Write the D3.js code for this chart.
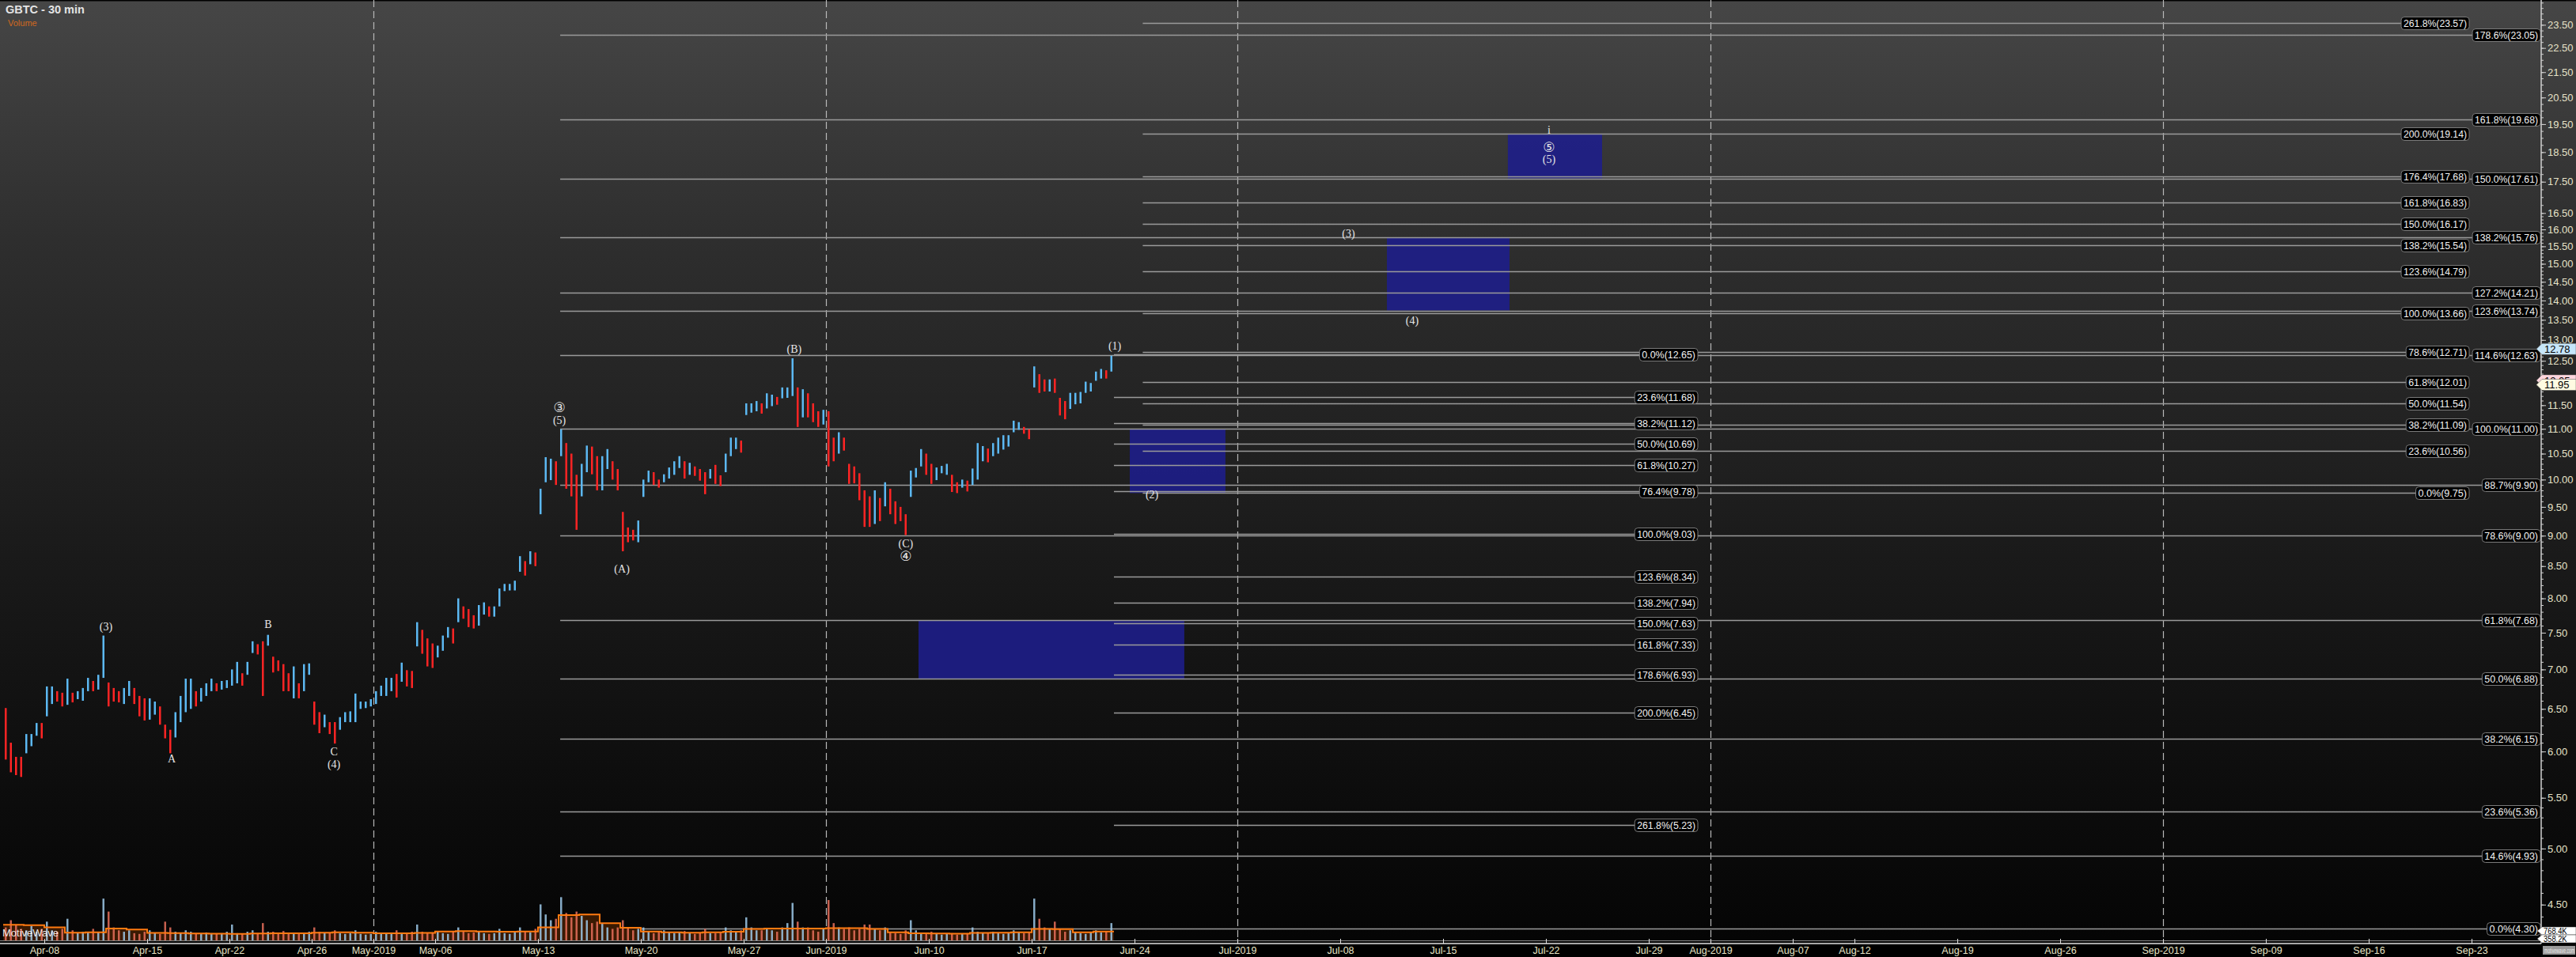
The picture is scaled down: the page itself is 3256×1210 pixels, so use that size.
<!DOCTYPE html>
<html><head><meta charset="utf-8">
<script src="https://cdn.jsdelivr.net/npm/d3@7"></script>
<style>
html,body{margin:0;padding:0;background:#000;overflow:hidden}
svg{display:block}
</style></head><body>
<svg id="chart" width="3256" height="1210"></svg>
<script>
// ---------------- DATA ----------------
const startDay = -2;          // trading-day index of first bar (Apr-08 = 0)
const barsPerDay = 4;
const barHigh = [
6.51,6.10,5.94,5.94, 6.20,6.20,6.33,6.33, 6.78,6.78,6.72,6.70, 6.88,6.70,6.72,6.76,
6.89,6.85,6.93,7.46, 6.83,6.76,6.72,6.76, 6.85,6.76,6.66,6.63, 6.63,6.59,6.53,6.31,
6.25,6.46,6.66,6.88, 6.88,6.72,6.76,6.82, 6.88,6.82,6.85,6.86, 7.00,7.10,6.95,7.10,
7.38,7.34,7.38,7.47, 7.17,7.12,7.07,6.95, 7.04,6.82,7.07,7.08, 6.59,6.46,6.43,6.34,
6.34,6.40,6.46,6.47, 6.69,6.59,6.59,6.62, 6.72,6.79,6.89,6.89, 6.94,7.09,6.99,6.98,
7.65,7.54,7.42,7.35, 7.32,7.46,7.58,7.56, 8.00,7.88,7.84,7.75, 7.90,7.94,7.88,7.88,
8.15,8.22,8.22,8.27, 8.66,8.58,8.74,8.72, 9.83,10.43,10.40,10.35, 10.99,10.71,10.50,10.09,
10.30,10.66,10.64,10.45, 10.45,10.59,10.35,10.20, 9.41,9.14,9.10,9.26, 10.00,10.17,10.14,10.00,
10.10,10.23,10.35,10.45, 10.35,10.32,10.25,10.20, 10.14,10.20,10.28,10.08, 10.50,10.82,10.82,10.76,
11.54,11.54,11.59,11.54, 11.76,11.73,11.68,11.89, 11.89,12.56,11.89,11.85, 11.76,11.54,11.37,11.40,
11.37,10.82,10.93,10.82, 10.30,10.25,10.12,9.80, 9.69,9.80,9.66,9.95, 9.83,9.60,9.50,9.37,
10.17,10.22,10.59,10.50, 10.30,10.23,10.26,10.30, 10.09,9.95,10.00,9.98, 10.21,10.71,10.65,10.60,
10.71,10.82,10.87,10.87, 11.17,11.14,11.04,10.99, 12.37,12.19,12.07,12.07, 12.09,11.66,11.59,11.77,
11.77,11.79,12.02,11.99, 12.25,12.31,12.28,12.62];
const barLow = [
5.91,5.77,5.74,5.72, 5.98,6.06,6.18,6.15, 6.41,6.56,6.59,6.53, 6.55,6.58,6.62,6.60,
6.72,6.72,6.74,6.89, 6.53,6.59,6.58,6.56, 6.66,6.56,6.41,6.36, 6.37,6.43,6.31,6.15,
5.98,6.16,6.34,6.46, 6.50,6.53,6.59,6.66, 6.72,6.72,6.74,6.76, 6.79,6.82,6.79,6.93,
7.22,7.20,6.66,7.32, 6.96,6.98,6.72,6.72, 6.63,6.63,6.72,6.93, 6.31,6.21,6.28,6.20,
6.09,6.25,6.34,6.34, 6.34,6.50,6.51,6.53, 6.56,6.66,6.66,6.72, 6.64,6.84,6.78,6.76,
7.31,7.21,7.04,7.02, 7.16,7.25,7.43,7.35, 7.65,7.70,7.58,7.56, 7.60,7.76,7.73,7.73,
7.88,8.11,8.12,8.12, 8.41,8.35,8.53,8.50, 9.37,9.95,9.99,9.90, 10.45,9.83,9.69,9.10,
9.69,10.14,10.10,9.80, 9.80,10.20,10.00,9.80, 8.74,8.89,8.92,8.89, 9.68,9.95,9.90,9.85,
9.95,10.02,10.09,10.22, 10.02,10.09,10.07,9.98, 9.73,10.02,9.92,9.88, 10.14,10.45,10.59,10.52,
11.29,11.34,11.37,11.32, 11.43,11.48,11.51,11.65, 11.66,11.70,11.04,11.24, 11.24,11.14,11.04,11.09,
10.25,10.35,10.50,10.56, 9.92,9.93,9.62,9.15, 9.15,9.20,9.25,9.51, 9.37,9.20,9.25,9.01,
9.68,10.04,10.25,10.09, 9.92,9.99,10.12,10.09, 9.77,9.75,9.85,9.78, 9.90,10.00,10.35,10.33,
10.45,10.50,10.58,10.64, 10.93,10.98,10.90,10.79, 11.89,11.77,11.80,11.80, 11.77,11.28,11.20,11.42,
11.52,11.54,11.77,11.80, 12.04,12.09,12.09,12.25];
// volume per bar (thousands of shares)
const volumeK = [
900,1400,1100,800, 700,1000,600,800, 1300,700,600,800, 1500,700,500,600,
600,800,600,2900, 2000,900,700,600, 700,500,450,600, 700,500,450,1300,
900,600,500,700, 600,500,450,550, 500,450,500,600, 1100,500,450,600,
700,500,1200,600, 600,500,650,500, 550,450,500,600, 900,600,500,550,
700,500,450,500, 700,450,400,450, 600,450,500,550, 700,500,500,600,
1100,600,500,550, 600,500,450,600, 900,600,500,550, 600,500,450,500,
800,500,450,550, 900,600,550,800, 2500,1800,1400,1500, 3000,1900,1600,2000,
1700,1400,1200,1300, 1200,900,800,900, 1400,900,700,800, 900,600,500,600,
700,550,500,600, 650,500,450,550, 800,500,500,600, 900,700,600,700,
1600,900,700,700, 800,700,600,900, 1200,2600,1300,900, 900,700,600,800,
2800,1200,900,800, 900,700,800,1100, 1100,800,700,900, 600,500,450,700,
1400,700,500,500, 600,500,400,450, 500,400,450,500, 900,600,500,550,
600,500,450,550, 700,550,500,600, 2900,1500,900,800, 1300,800,600,700,
600,500,450,600, 700,550,600,1200];
// volume moving average, one value per trading day (thousands)
const volumeMA = [1080,1050,900,540,560,820,760,520,510,480,460,450,480,500,500,540,560,540,
490,500,520,620,640,620,600,620,900,1750,1800,1200,880,620,560,540,560,600,800,820,830,820,
850,850,800,560,500,480,470,520,540,560,800,780,560,620];
// x-axis ticks (trading-day index) and labels
const xTickDays = [0,5,9,13,16,19,24,29,34,38,43,48,53,58,63,68,73,78,81,85,88,93,98,103,108,113,118];
const xTickLabels = ["Apr-08","Apr-15","Apr-22","Apr-26","May-2019","May-06","May-13","May-20","May-27",
"Jun-2019","Jun-10","Jun-17","Jun-24","Jul-2019","Jul-08","Jul-15","Jul-22","Jul-29","Aug-2019",
"Aug-07","Aug-12","Aug-19","Aug-26","Sep-2019","Sep-09","Sep-16","Sep-23"];
const monthStartDays = [16,38,58,81,103];
// y-axis tick labels
const yTickValues = [4.5,5,5.5,6,6.5,7,7.5,8,8.5,9,9.5,10,10.5,11,11.5,12.5,13,13.5,14,14.5,15,15.5,16,16.5,17.5,18.5,19.5,20.5,21.5,22.5,23.5];
// Fibonacci tools: level labels & prices
const fibLLevels = ["178.6%","161.8%","150.0%","138.2%","127.2%","123.6%","114.6%","100.0%","88.7%","78.6%","61.8%","50.0%","38.2%","23.6%","14.6%","0.0%"];
const fibLPrices = [23.05,19.68,17.61,15.76,14.21,13.74,12.63,11.00,9.90,9.00,7.68,6.88,6.15,5.36,4.93,4.30];
const fibLStartDay = 25.08;
const fibMLevels = ["261.8%","200.0%","176.4%","161.8%","150.0%","138.2%","123.6%","100.0%","78.6%","61.8%","50.0%","38.2%","23.6%","0.0%"];
const fibMPrices = [23.57,19.14,17.68,16.83,16.17,15.54,14.79,13.66,12.71,12.01,11.54,11.09,10.56,9.75];
const fibMStartDay = 53.4;
const fibRLevels = ["0.0%","23.6%","38.2%","50.0%","61.8%","76.4%","100.0%","123.6%","138.2%","150.0%","161.8%","178.6%","200.0%","261.8%"];
const fibRPrices = [12.65,11.68,11.12,10.69,10.27,9.78,9.03,8.34,7.94,7.63,7.33,6.93,6.45,5.23];
const fibRStartDay = 52.0;
// target boxes
const boxStartDay = [42.5,52.77,65.27,71.15];
const boxEndDay   = [55.42,57.42,71.23,75.73];
const boxTop      = [7.68,11.00,15.76,19.14];
const boxBottom   = [6.88,9.75,13.74,17.61];
// Elliott wave labels
const waveText  = ["(3)","A","B","C","(4)","\u2462","(5)","(A)","(B)","(C)","\u2463","(1)","(2)","(3)","(4)","i","\u2464","(5)"];
const waveDay   = [3.0,6.19,10.88,14.08,14.08,25.04,25.04,28.08,36.46,41.88,41.88,52.04,53.85,63.4,66.5,73.15,73.15,73.15];
const wavePrice = [7.59,5.92,7.62,6.00,5.86,11.45,11.19,8.46,12.79,8.87,8.66,12.86,9.73,15.88,13.49,19.3,18.68,18.26];
// right-axis value markers
const priceMarkers = [12.05,11.95,12.78];
const volMarkers = ["768.4K","358.2K"];

// ---------------- LAYOUT ----------------
const W=3256,H=1210, plotR=3212, axisY=1193, volBase=1189;
const svg=d3.select("#chart");
const defs=svg.append("defs");
const grad=defs.append("linearGradient").attr("id","bg").attr("x1",0).attr("y1",0).attr("x2",0).attr("y2",1);
[[0,"#464646"],[0.25,"#2e2e2e"],[0.58,"#1a1a1a"],[0.8,"#0e0e0e"],[1,"#040404"]].forEach(s=>grad.append("stop").attr("offset",s[0]).attr("stop-color",s[1]));
svg.append("rect").attr("width",W).attr("height",H).attr("fill","url(#bg)");
svg.append("rect").attr("x",0).attr("y",axisY).attr("width",plotR).attr("height",H-axisY).attr("fill","#000");
svg.append("line").attr("x1",0).attr("x2",W).attr("y1",0.5).attr("y2",0.5).attr("stroke","#000").attr("stroke-width",2);

const x=d3.scaleLinear().domain([0,118]).range([56,3124]);
const y=d3.scaleLog().domain([4.0782,24.621]).range([1210,0]);
const yv=d3.scaleLinear().domain([0,768.4]).range([volBase,volBase-14]);

// month separators
svg.append("g").selectAll("line").data(monthStartDays).join("line")
 .attr("x1",d=>Math.round(x(d))+0.5).attr("x2",d=>Math.round(x(d))+0.5).attr("y1",0).attr("y2",axisY)
 .attr("stroke","#b8b8b8").attr("stroke-width",1.2).attr("stroke-dasharray","9,5");

// boxes
const boxes=d3.range(boxStartDay.length);
svg.append("g").selectAll("rect").data(boxes).join("rect")
 .attr("x",i=>x(boxStartDay[i])).attr("width",i=>x(boxEndDay[i])-x(boxStartDay[i]))
 .attr("y",i=>y(boxTop[i])).attr("height",i=>y(boxBottom[i])-y(boxTop[i]))
 .attr("fill","#1e1e8c").attr("fill-opacity",0.88);

// fib groups
const boxCharW=6.15;
function fibGroup(levels,prices,startDay,rightEdge){
  const g=svg.append("g");
  levels.forEach((lv,i)=>{
    const txt=lv+"("+prices[i].toFixed(2)+")";
    const w=txt.length*boxCharW+6;
    const yy=Math.round(y(prices[i]))+0.5;
    const bx=rightEdge-w;
    g.append("line").attr("x1",x(startDay)).attr("x2",bx).attr("y1",yy).attr("y2",yy)
      .attr("stroke","#9a9a9a").attr("stroke-width",1.3);
    g.append("rect").attr("x",bx).attr("y",yy-8).attr("width",w).attr("height",16).attr("rx",4)
      .attr("fill","#000").attr("stroke","#7a7a7a").attr("stroke-width",1);
    g.append("text").attr("x",bx+3).attr("y",yy+4.5).text(txt)
      .attr("textLength",txt.length*boxCharW).attr("lengthAdjust","spacingAndGlyphs")
      .attr("font-family","'Liberation Sans Narrow','Liberation Sans',Arial,sans-serif").attr("font-size",12.5).attr("fill","#f2f2f2");
  });
}
fibGroup(fibLLevels,fibLPrices,fibLStartDay,3211);
fibGroup(fibMLevels,fibMPrices,fibMStartDay,3121);
fibGroup(fibRLevels,fibRPrices,fibRStartDay,2146);

// volume
const barDay=i=>startDay+(i+0.5)/barsPerDay;
const dirUp=barHigh.map((h,i)=> i===0 ? false : (h+barLow[i]) >= (barHigh[i-1]+barLow[i-1]));
const maPts=[]; volumeMA.forEach((v,i)=>{maPts.push([startDay+i,v]);}); maPts.push([startDay+volumeMA.length,volumeMA[volumeMA.length-1]]);
svg.append("path").datum(maPts).attr("d",d3.area().x(d=>x(d[0])).y0(volBase).y1(d=>yv(d[1])).curve(d3.curveStepAfter))
 .attr("fill","#3a1a02");
svg.append("g").selectAll("rect").data(volumeK).join("rect")
 .attr("x",(d,i)=>x(barDay(i))-1.25).attr("width",2.5)
 .attr("y",d=>yv(d)).attr("height",d=>volBase-yv(d))
 .attr("fill",(d,i)=>dirUp[i]?"#9cc8e8":"#e8705c").attr("fill-opacity",0.85);
svg.append("path").datum(maPts).attr("d",d3.line().x(d=>x(d[0])).y(d=>yv(d[1])).curve(d3.curveStepAfter))
 .attr("fill","none").attr("stroke","#ff7a10").attr("stroke-width",2);
svg.append("line").attr("x1",0).attr("x2",plotR).attr("y1",volBase+0.5).attr("y2",volBase+0.5).attr("stroke","#8a8a8a").attr("stroke-width",1);

// price bars
svg.append("g").selectAll("rect").data(barHigh).join("rect")
 .attr("x",(d,i)=>x(barDay(i))-1.25).attr("width",2.5)
 .attr("y",d=>y(d)).attr("height",(d,i)=>Math.max(1,y(barLow[i])-y(d)))
 .attr("fill",(d,i)=>dirUp[i]?"#5cb8f2":"#ff2424");

// wave labels
const isCircled=d=>/[\u2460-\u2473]/.test(d);
svg.append("g").selectAll("text").data(waveText).join("text")
 .attr("x",(d,i)=>x(waveDay[i])).attr("y",(d,i)=>y(wavePrice[i])).attr("dy","0.35em")
 .attr("text-anchor","middle").text(d=>d)
 .attr("font-family",d=>isCircled(d)?"'DejaVu Sans',sans-serif":"'Liberation Serif','Times New Roman',serif")
 .attr("font-size",d=>isCircled(d)?17:14).attr("fill","#e6e6e6");

// axes
const axisFont="'Liberation Sans Narrow','Liberation Sans',Arial,sans-serif";
const xAxis=svg.append("g").attr("transform",`translate(0,${axisY})`)
 .call(d3.axisBottom(x).tickValues(xTickDays).tickFormat((d,i)=>xTickLabels[i]).tickSize(-6).tickPadding(4));
xAxis.select(".domain").attr("d",`M0,0H${plotR}`).attr("stroke","#e0e0e0").attr("stroke-width",1.6);
xAxis.selectAll(".tick line").attr("stroke","#e0e0e0");
xAxis.selectAll("text").attr("fill","#e8e4c6").attr("font-family",axisFont).attr("font-size",12.5);

const minor=[]; for(let v=4.3; v<=24.6; v+= (v<16.4?0.1:0.25)){minor.push(+v.toFixed(2));}
const yMinor=svg.append("g").attr("transform",`translate(${plotR},0)`)
 .call(d3.axisRight(y).tickValues(minor).tickFormat("").tickSize(3));
yMinor.select(".domain").remove();
yMinor.selectAll("line").attr("stroke","#cfcfcf");
const yAxis=svg.append("g").attr("transform",`translate(${plotR},0)`)
 .call(d3.axisRight(y).tickValues(yTickValues).tickFormat(d3.format(".2f")).tickSize(6).tickPadding(2));
yAxis.select(".domain").attr("d",`M0,0V${axisY}`).attr("stroke","#d0d0d0").attr("stroke-width",1.5);
yAxis.selectAll(".tick line").attr("stroke","#d0d0d0");
yAxis.selectAll("text").attr("fill","#e6e2c8").attr("font-family","'Liberation Sans',Arial,sans-serif").attr("font-size",13);

// right-axis price markers
const mkFill=["#ffd6de","#fffbe2","#c6e6fa"];
priceMarkers.forEach((v,i)=>{
  const yy=y(v);
  svg.append("path").attr("d",`M${plotR-6},${yy}L${plotR+1},${yy-7}H${W}V${yy+7}H${plotR+1}Z`).attr("fill",mkFill[i]).attr("stroke","#555").attr("stroke-width",0.5);
  svg.append("text").attr("x",plotR+4).attr("y",yy+5).text(v.toFixed(2)).attr("font-family","'Liberation Sans',Arial,sans-serif").attr("font-size",13).attr("fill","#000");
});
const volMarkY=[1177,1187];
volMarkers.forEach((t,i)=>{
  const yy=volMarkY[i];
  svg.append("path").attr("d",`M${plotR-5},${yy}L${plotR+1},${yy-5}H${W}V${yy+5}H${plotR+1}Z`).attr("fill","#fff").attr("stroke","#333").attr("stroke-width",0.5);
  svg.append("text").attr("transform",`translate(${plotR+3},${yy+4}) scale(0.85,1)`).text(t)
    .attr("font-family","'Liberation Sans',Arial,sans-serif").attr("font-size",11).attr("fill","#000");
});

// header & watermarks
svg.append("text").attr("x",7).attr("y",17).text("GBTC - 30 min").attr("font-family","'Liberation Sans',Arial,sans-serif").attr("font-weight","bold").attr("font-size",14.5).attr("fill","#e4e4e4");
svg.append("text").attr("x",10).attr("y",33).text("Volume").attr("font-family","'Liberation Sans',Arial,sans-serif").attr("font-size",11).attr("fill","#d2691e");
svg.append("text").attr("x",3).attr("y",1184).text("MotiveWave").attr("font-family","'Liberation Sans',Arial,sans-serif").attr("font-size",13).attr("fill","#ffffff").attr("fill-opacity",0.9);
svg.append("rect").attr("x",3214).attr("y",1196).attr("width",41).attr("height",11).attr("fill","#9a9a9a");
svg.append("text").attr("transform","translate(3216,1205) scale(0.54,1)").text("motivewave.com")
  .attr("font-family","'Liberation Sans',Arial,sans-serif").attr("font-size",9.5).attr("fill","#eeeeee");
</script>
</body></html>
